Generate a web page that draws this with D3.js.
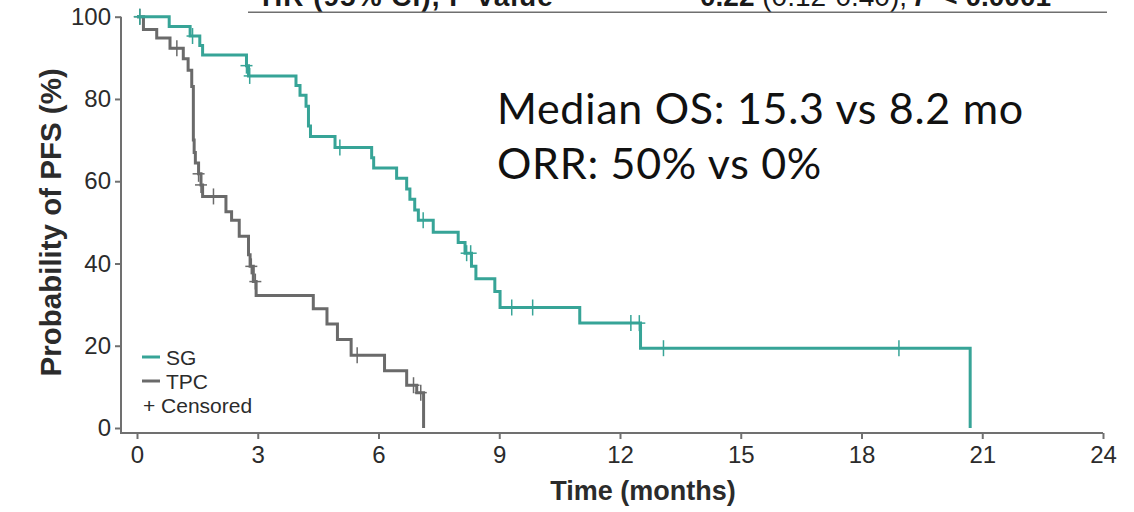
<!DOCTYPE html>
<html>
<head>
<meta charset="utf-8">
<script src="https://cdn.jsdelivr.net/npm/d3@7/dist/d3.min.js"></script>
<style>
  html, body { margin: 0; padding: 0; background: #ffffff; }
  svg { display: block; }
</style>
</head>
<body>
<svg id="km" width="1134" height="512"></svg>
<script>
// Kaplan–Meier progression-free survival, SG vs TPC

// SG arm: event times (months) and survival (%) after each event
const sgEventMonths = [0.80, 1.32, 1.56, 1.63, 2.72, 2.77, 3.95, 4.05, 4.20, 4.26, 4.31, 4.92, 5.83, 5.88, 6.45, 6.70, 6.78, 6.90, 6.99, 7.36, 7.98, 8.15, 8.31, 8.42, 8.89, 9.02, 11.0, 12.51, 20.7];
const sgSurvival = [97.6, 95.3, 93.0, 90.7, 88.1, 85.6, 83.3, 80.9, 78.2, 73.4, 70.9, 68.2, 65.7, 63.2, 60.7, 58.1, 55.6, 53.0, 50.5, 47.6, 45.1, 42.5, 39.3, 36.3, 33.2, 29.3, 25.5, 19.4, 0];
const sgCensorMonths = [0.07, 1.38, 2.72, 2.80, 5.04, 7.11, 8.19, 8.29, 9.31, 9.83, 12.27, 12.48, 13.08, 18.93];

// TPC arm
const tpcEventMonths = [0.16, 0.49, 0.82, 1.15, 1.27, 1.36, 1.40, 1.42, 1.45, 1.53, 1.59, 1.63, 2.21, 2.35, 2.54, 2.77, 2.81, 2.89, 2.96, 4.38, 4.72, 4.98, 5.32, 6.15, 6.70, 6.95, 7.12];
const tpcSurvival = [96.9, 94.8, 92.3, 89.8, 87.0, 83.0, 70.0, 67.0, 64.4, 61.8, 59.1, 56.3, 52.6, 50.5, 46.6, 42.1, 39.3, 35.6, 32.2, 29.0, 25.3, 21.5, 17.7, 13.9, 10.4, 8.6, 0];
const tpcCensorMonths = [0.07, 0.99, 1.53, 1.59, 1.90, 2.84, 2.94, 5.47, 6.87, 7.05];

const xTicks = [0, 3, 6, 9, 12, 15, 18, 21, 24];
const yTicks = [0, 20, 40, 60, 80, 100];

const legendLabels = ["SG", "TPC", "+ Censored"];
const headerLeft = "HR (95% CI), P value";
const notes = ["Median OS: 15.3 vs 8.2 mo", "ORR: 50% vs 0%"];

const SG_COLOR = "#37a497";
const TPC_COLOR = "#6a6a6a";
const AXIS_COLOR = "#707070";
const TEXT_COLOR = "#2b2b2b";

const svg = d3.select("#km");

const x = d3.scaleLinear().domain([0, 24]).range([137, 1103]);
const y = d3.scaleLinear().domain([0, 100]).range([428, 16.7]);

const axisX = x(0) - 16;     // vertical axis sits left of the data origin
const baseY = y(0) + 5;      // horizontal axis sits just below 0 %

// header row of the HR table (runs off the top edge)
const header = svg.append("g").attr("font-family", "Liberation Sans, Arial, sans-serif")
  .attr("font-size", 28).attr("fill", "#1a1a1a");
header.append("text").attr("x", 262).attr("y", 6).attr("font-weight", "bold")
  .attr("letter-spacing", 1).text(headerLeft);
const hr = header.append("text").attr("x", 700).attr("y", 6);
hr.append("tspan").attr("font-weight", "bold").text("0.22 ");
hr.append("tspan").text("(0.12-0.40), ");
hr.append("tspan").attr("font-weight", "bold").attr("font-style", "italic").text("P");
hr.append("tspan").attr("font-weight", "bold").text(" < 0.0001");
svg.append("line").attr("x1", 248).attr("x2", 1107).attr("y1", 12.3).attr("y2", 12.3)
  .attr("stroke", "#6f6f6f").attr("stroke-width", 1.6);

// axes
const gy = svg.append("g").attr("transform", `translate(${axisX},0)`)
  .call(d3.axisLeft(y).tickValues(yTicks).tickSize(6).tickSizeOuter(0).tickPadding(4));
gy.select(".domain").remove();
const gx = svg.append("g").attr("transform", `translate(0,${baseY})`)
  .call(d3.axisBottom(x).tickValues(xTicks).tickSize(6).tickSizeOuter(0).tickPadding(7));
gx.select(".domain").remove();

[gx, gy].forEach(g => {
  g.selectAll(".tick line").attr("stroke", AXIS_COLOR).attr("stroke-width", 2);
  g.selectAll(".tick text").attr("fill", TEXT_COLOR)
    .attr("font-family", "Liberation Sans, Arial, sans-serif").attr("font-size", 24);
});

svg.append("path")
  .attr("d", `M${axisX},${y(100)}V${baseY}H${x(24)}`)
  .attr("fill", "none").attr("stroke", AXIS_COLOR).attr("stroke-width", 2);

// axis titles
svg.append("text")
  .attr("transform", `translate(50,${(y(100) + y(0)) / 2}) rotate(-90)`)
  .attr("text-anchor", "middle").attr("dominant-baseline", "central")
  .attr("font-family", "Liberation Sans, Arial, sans-serif").attr("font-weight", "bold")
  .attr("font-size", 29.5).attr("fill", TEXT_COLOR)
  .text("Probability of PFS (%)");
svg.append("text")
  .attr("x", 643).attr("y", 500).attr("text-anchor", "middle")
  .attr("font-family", "Liberation Sans, Arial, sans-serif").attr("font-weight", "bold")
  .attr("font-size", 27).attr("fill", TEXT_COLOR)
  .text("Time (months)");

// step curves
function stepPoints(times, surv) {
  const pts = [[0, 100]];
  times.forEach((t, i) => pts.push([t, surv[i]]));
  return pts;
}
function survivalAt(times, surv, t) {
  let s = 100;
  for (let i = 0; i < times.length; i++) { if (times[i] <= t) s = surv[i]; }
  return s;
}
const stepLine = d3.line().x(d => x(d[0])).y(d => y(d[1])).curve(d3.curveStepAfter);

const arms = [
  { times: tpcEventMonths, surv: tpcSurvival, cens: tpcCensorMonths, color: TPC_COLOR },
  { times: sgEventMonths, surv: sgSurvival, cens: sgCensorMonths, color: SG_COLOR }
];

arms.forEach(arm => {
  svg.append("path")
    .datum(stepPoints(arm.times, arm.surv))
    .attr("d", stepLine)
    .attr("fill", "none").attr("stroke", arm.color)
    .attr("stroke-width", 3).attr("stroke-linejoin", "miter");

  const marks = svg.append("g").attr("stroke", arm.color).attr("stroke-width", 1.5);
  arm.cens.forEach(t => {
    const cx = x(t), cy = y(survivalAt(arm.times, arm.surv, t));
    marks.append("line").attr("x1", cx).attr("x2", cx).attr("y1", cy - 8).attr("y2", cy + 8);
    marks.append("line").attr("x1", cx - 6).attr("x2", cx + 6).attr("y1", cy).attr("y2", cy);
  });
});

// legend
const legend = svg.append("g")
  .attr("font-family", "Liberation Sans, Arial, sans-serif").attr("font-size", 21).attr("fill", TEXT_COLOR);
const rowY = [357, 381, 405];
[SG_COLOR, TPC_COLOR].forEach((c, i) => {
  legend.append("line").attr("x1", 142).attr("x2", 160).attr("y1", rowY[i]).attr("y2", rowY[i])
    .attr("stroke", c).attr("stroke-width", 3);
  legend.append("text").attr("x", 166).attr("y", rowY[i]).attr("dominant-baseline", "central")
    .text(legendLabels[i]);
});
legend.append("text").attr("x", 143).attr("y", rowY[2]).attr("dominant-baseline", "central")
  .text(legendLabels[2]);

// annotation
const note = svg.append("g").attr("font-family", "Lato, Carlito, sans-serif")
  .attr("font-size", 43).attr("letter-spacing", 0.7).attr("fill", "#111");
note.append("text").attr("x", 497).attr("y", 124).text(notes[0]);
note.append("text").attr("x", 497).attr("y", 179).text(notes[1]);
</script>
</body>
</html>
